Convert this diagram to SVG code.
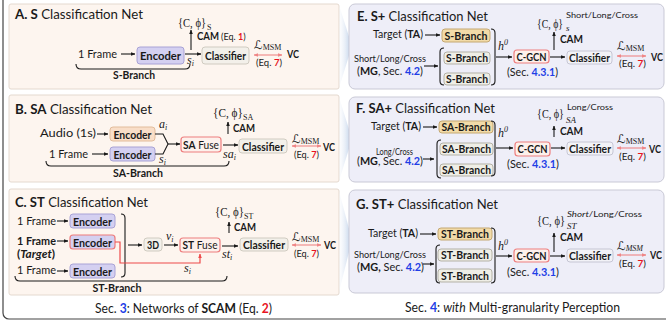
<svg xmlns="http://www.w3.org/2000/svg" width="666" height="322" viewBox="0 0 666 322">
  <style>
    text { font-family: Lato, "Open Sans", "Liberation Sans", sans-serif; fill: #1a1a1a; }
    .ttl { font-size: 14px; }
    .b { font-weight: bold; }
    .it { font-style: italic; }
    .n { font-size: 11.5px; font-weight: bold; text-anchor: middle; }
    .n2 { font-size: 11px; font-weight: bold; text-anchor: middle; }
    .r12 { font-size: 12px; }
    .r11 { font-size: 11px; }
    .sm { font-size: 9px; }
    .mth { font-family: "Liberation Serif", "DejaVu Serif", serif; }
    .scr { font-family: "DejaVu Serif", "DejaVu Sans", serif; }
    .red { fill: #e8141e; font-weight: bold; }
    .blu { fill: #1f3fe6; font-weight: bold; }
    .pl { fill: #fdf5ef; stroke: #e4d9cf; stroke-width: 1; }
    .pr { fill: #eeeef8; stroke: #c9c9d6; stroke-width: 1; }
    .enc { fill: #d4d0f1; stroke: #a8a2d6; stroke-width: 1; }
    .enct { fill: #d4d0f1; stroke: #ee7a7a; stroke-width: 1.2; }
    .aud { fill: #f9dec8; stroke: #e2bc9b; stroke-width: 1; }
    .cls { fill: #f3f0ea; stroke: #d0cbc1; stroke-width: 1; }
    .cls2 { fill: #f2f2f7; stroke: #c6c6d4; stroke-width: 1; }
    .fuse { fill: #fdf1ec; stroke: #ee7f7f; stroke-width: 1.2; }
    .tan { fill: #f2dba8; stroke: #c4a873; stroke-width: 1; }
    .gry { fill: #efeee6; stroke: #b3b1a6; stroke-width: 1; }
    .ln { stroke: #1a1a1a; stroke-width: 1.1; fill: none; }
    .ar { stroke: #1a1a1a; stroke-width: 1.1; fill: none; marker-end: url(#ah); }
    .rar { stroke: #ef8686; stroke-width: 1.1; fill: none; marker-start: url(#rh); marker-end: url(#rh); }
    .rl { stroke: #ee4a4a; stroke-width: 1.2; fill: none; }
  </style>
  <defs>
    <marker id="ah" viewBox="0 0 10 10" refX="9" refY="5" markerWidth="4.5" markerHeight="4.5" orient="auto-start-reverse">
      <path d="M0,1 L10,5 L0,9 z" fill="#1a1a1a"/>
    </marker>
    <marker id="rh" viewBox="0 0 10 10" refX="9" refY="5" markerWidth="4.5" markerHeight="4.5" orient="auto-start-reverse">
      <path d="M0,1 L10,5 L0,9 z" fill="#ef8686"/>
    </marker>
    <marker id="rah" viewBox="0 0 10 10" refX="9" refY="5" markerWidth="4" markerHeight="4" orient="auto-start-reverse">
      <path d="M0,1 L10,5 L0,9 z" fill="#ee4a4a"/>
    </marker>
    <linearGradient id="chev" x1="0" y1="0" x2="1" y2="0">
      <stop offset="0" stop-color="#f4f6fb" stop-opacity="0.2"/>
      <stop offset="1" stop-color="#b4cae6"/>
    </linearGradient>
  </defs>

  <!-- outer frame -->
  <rect x="3" y="-10" width="675" height="329" rx="6" fill="#ffffff" stroke="#444" stroke-width="1.2"/>

  <!-- panel backgrounds -->
  <rect class="pl" x="9" y="4" width="330" height="85" rx="2"/>
  <rect class="pl" x="9" y="95" width="330" height="87" rx="2"/>
  <rect class="pl" x="9" y="189" width="330" height="106" rx="2"/>
  <polygon points="339,5 352,46 339,88" fill="url(#chev)"/>
  <polygon points="339,97 352,139 339,181" fill="url(#chev)"/>
  <polygon points="339,191 352,240 339,292" fill="url(#chev)"/>
  <rect class="pr" x="349" y="4" width="315" height="85" rx="6"/>
  <rect class="pr" x="349" y="97" width="315" height="85" rx="6"/>
  <rect class="pr" x="349" y="190" width="315" height="103" rx="6"/>

  <!-- ===== A. S Classification Net ===== -->
  <text class="ttl" x="15" y="19" textLength="128" lengthAdjust="spacingAndGlyphs"><tspan class="b">A. S</tspan> Classification Net</text>
  <g id="a-out">
    <text class="mth" x="178" y="27" font-size="13" textLength="28" lengthAdjust="spacingAndGlyphs">{C, ϕ}</text>
    <text class="mth" x="207" y="30" font-size="8">S</text>
    <text class="r12 b" x="197" y="40" textLength="22" lengthAdjust="spacingAndGlyphs">CAM</text>
    <text class="sm" x="221" y="40">(Eq. <tspan class="red">1</tspan>)</text>
  </g>
  <g id="a-input"><text class="r12" x="78" y="58" textLength="39" lengthAdjust="spacingAndGlyphs">1 Frame</text></g>
  <g id="a-encoder">
    <rect class="enc" x="137" y="47" width="47" height="17" rx="3"/>
    <text class="n" x="160.5" y="59.5" textLength="41" lengthAdjust="spacingAndGlyphs">Encoder</text>
  </g>
  <g id="a-classifier">
    <rect class="cls" x="202" y="47" width="47" height="17" rx="3"/>
    <text class="n" x="225.5" y="59.5" textLength="41" lengthAdjust="spacingAndGlyphs">Classifier</text>
  </g>
  <g id="a-vc">
    <text class="scr" x="254" y="49" font-size="12">ℒ<tspan class="mth" font-size="8" dy="1">MSM</tspan></text>
    <text class="sm" x="256" y="66" textLength="26" lengthAdjust="spacingAndGlyphs">(Eq. <tspan class="red">7</tspan>)</text>
    <text class="r12 b" x="287" y="58" textLength="12" lengthAdjust="spacingAndGlyphs">VC</text>
  </g>
  <g id="a-branch">
    <path class="ln" d="M76,64 Q76,69 81,69 L185,69 Q190,69 190,64"/>
    <text class="n" x="134" y="79" textLength="42" lengthAdjust="spacingAndGlyphs">S-Branch</text>
  </g>
  <g id="a-edges">
    <line class="ar" x1="121" y1="54" x2="135" y2="54"/>
    <line class="ar" x1="185" y1="54" x2="201" y2="54"/>
    <line class="ar" x1="191" y1="50" x2="191" y2="30"/>
    <line class="rar" x1="254" y1="55" x2="282" y2="55"/>
    <text class="mth it" x="187" y="64" font-size="12">s<tspan font-size="8" dy="2">i</tspan></text>
  </g>

  <!-- ===== B. SA Classification Net ===== -->
  <text class="ttl" x="15" y="114" textLength="137" lengthAdjust="spacingAndGlyphs"><tspan class="b">B. SA</tspan> Classification Net</text>
  <g id="b-out">
    <text class="mth" x="213" y="117" font-size="13" textLength="30" lengthAdjust="spacingAndGlyphs">{C, ϕ}</text>
    <text class="mth" x="243" y="120" font-size="8">SA</text>
    <text class="r12 b" x="233" y="132" textLength="22" lengthAdjust="spacingAndGlyphs">CAM</text>
  </g>
  <g id="b-audio"><text class="r12" x="40" y="137" textLength="56" lengthAdjust="spacingAndGlyphs">Audio (1s)</text></g>
  <g id="b-frame"><text class="r12" x="49" y="158" textLength="39" lengthAdjust="spacingAndGlyphs">1 Frame</text></g>
  <g id="b-enc-audio">
    <rect class="aud" x="110" y="127" width="45" height="14" rx="3"/>
    <text class="n" x="132.5" y="138.5" textLength="38" lengthAdjust="spacingAndGlyphs">Encoder</text>
  </g>
  <g id="b-enc-frame">
    <rect class="enc" x="110" y="147" width="45" height="14" rx="3"/>
    <text class="n" x="132.5" y="158.5" textLength="38" lengthAdjust="spacingAndGlyphs">Encoder</text>
  </g>
  <g id="b-fuse">
    <rect class="fuse" x="181" y="137" width="40" height="15" rx="3"/>
    <text class="r12" x="201" y="148.5" text-anchor="middle" textLength="36" lengthAdjust="spacingAndGlyphs"><tspan class="b">SA</tspan> Fuse</text>
  </g>
  <g id="b-classifier">
    <rect class="cls" x="239" y="139" width="48" height="14" rx="3"/>
    <text class="n" x="263" y="150.5" textLength="42" lengthAdjust="spacingAndGlyphs">Classifier</text>
  </g>
  <g id="b-vc">
    <text class="scr" x="292" y="143" font-size="12">ℒ<tspan class="mth" font-size="8" dy="1">MSM</tspan></text>
    <text class="sm" x="294" y="158" textLength="25" lengthAdjust="spacingAndGlyphs">(Eq. <tspan class="red">7</tspan>)</text>
    <text class="r12 b" x="323" y="151" textLength="12" lengthAdjust="spacingAndGlyphs">VC</text>
  </g>
  <g id="b-branch">
    <path class="ln" d="M46,161 Q46,166 51,166 L224,166 Q229,166 229,161"/>
    <text class="n" x="138" y="177" textLength="50" lengthAdjust="spacingAndGlyphs">SA-Branch</text>
  </g>
  <g id="b-edges">
    <line class="ar" x1="97" y1="134" x2="108" y2="134"/>
    <line class="ar" x1="92" y1="154" x2="108" y2="154"/>
    <path class="ln" d="M155,134 L163,134 L168,144 L163,154 L155,154"/>
    <line class="ar" x1="168" y1="144" x2="180" y2="144"/>
    <line class="ar" x1="223" y1="145" x2="238" y2="145"/>
    <line class="ar" x1="228" y1="134" x2="228" y2="122"/>
    <line class="rar" x1="292" y1="146" x2="321" y2="146"/>
    <text class="mth it" x="159" y="128" font-size="12">a<tspan font-size="8" dy="2">i</tspan></text>
    <text class="mth it" x="159" y="163" font-size="12">s<tspan font-size="8" dy="2">i</tspan></text>
    <text class="mth it" x="223" y="158" font-size="12">sa<tspan font-size="8" dy="2">i</tspan></text>
  </g>

  <!-- ===== C. ST Classification Net ===== -->
  <text class="ttl" x="15" y="207" textLength="133" lengthAdjust="spacingAndGlyphs"><tspan class="b">C. ST</tspan> Classification Net</text>
  <g id="c-out">
    <text class="mth" x="215" y="216" font-size="13" textLength="29" lengthAdjust="spacingAndGlyphs">{C, ϕ}</text>
    <text class="mth" x="244" y="219" font-size="8">ST</text>
    <text class="r12 b" x="234" y="231" textLength="22" lengthAdjust="spacingAndGlyphs">CAM</text>
  </g>
  <g id="c-frame1"><text class="r12" x="17" y="225" textLength="39" lengthAdjust="spacingAndGlyphs">1 Frame</text></g>
  <g id="c-frame2">
    <text class="r12 b" x="17" y="245" textLength="39" lengthAdjust="spacingAndGlyphs">1 Frame</text>
    <text class="r12 b" x="17" y="258" textLength="38" lengthAdjust="spacingAndGlyphs">(<tspan class="it">Target</tspan>)</text>
  </g>
  <g id="c-frame3"><text class="r12" x="17" y="274" textLength="39" lengthAdjust="spacingAndGlyphs">1 Frame</text></g>
  <g id="c-enc1">
    <rect class="enc" x="70" y="214" width="45" height="14" rx="3"/>
    <text class="n" x="92.5" y="225.5" textLength="39" lengthAdjust="spacingAndGlyphs">Encoder</text>
  </g>
  <g id="c-enc2">
    <rect class="enct" x="70" y="235" width="45" height="14" rx="3"/>
    <text class="n" x="92.5" y="246.5" textLength="39" lengthAdjust="spacingAndGlyphs">Encoder</text>
  </g>
  <g id="c-enc3">
    <rect class="enc" x="70" y="264" width="45" height="14" rx="3"/>
    <text class="n" x="92.5" y="275.5" textLength="39" lengthAdjust="spacingAndGlyphs">Encoder</text>
  </g>
  <g id="c-3d">
    <rect class="cls" x="144" y="238" width="18" height="13" rx="3"/>
    <text class="n" x="153" y="248.5" textLength="12" lengthAdjust="spacingAndGlyphs">3D</text>
  </g>
  <g id="c-fuse">
    <rect class="fuse" x="180" y="238" width="40" height="14" rx="3"/>
    <text class="r12" x="200" y="249" text-anchor="middle" textLength="35" lengthAdjust="spacingAndGlyphs"><tspan class="b">ST</tspan> Fuse</text>
  </g>
  <g id="c-classifier">
    <rect class="cls" x="240" y="238" width="48" height="13" rx="3"/>
    <text class="n" x="264" y="249" textLength="42" lengthAdjust="spacingAndGlyphs">Classifier</text>
  </g>
  <g id="c-vc">
    <text class="scr" x="292" y="241" font-size="12">ℒ<tspan class="mth" font-size="8" dy="1">MSM</tspan></text>
    <text class="sm" x="294" y="257" textLength="25" lengthAdjust="spacingAndGlyphs">(Eq. <tspan class="red">7</tspan>)</text>
    <text class="r12 b" x="324" y="249" textLength="12" lengthAdjust="spacingAndGlyphs">VC</text>
  </g>
  <g id="c-branch">
    <path class="ln" d="M15,276 Q15,281 20,281 L222,281 Q227,281 227,276"/>
    <text class="n" x="117" y="292" textLength="49" lengthAdjust="spacingAndGlyphs">ST-Branch</text>
  </g>
  <g id="c-edges">
    <line class="ar" x1="57" y1="221" x2="68" y2="221"/>
    <line class="ar" x1="57" y1="241" x2="68" y2="241"/>
    <line class="ar" x1="57" y1="271" x2="68" y2="271"/>
    <path class="ln" d="M121,214 Q125,214 125,218 L125,273 Q125,277 121,277"/>
    <line class="ar" x1="128" y1="245" x2="142" y2="245"/>
    <line class="ar" x1="164" y1="245" x2="178" y2="245"/>
    <path class="rl" d="M115,242 L120,242 L120,263 L200,263 L200,254" marker-end="url(#rah)"/>
    <line class="ar" x1="222" y1="246" x2="238" y2="246"/>
    <line class="ar" x1="229" y1="233" x2="229" y2="222"/>
    <line class="rar" x1="292" y1="245" x2="321" y2="245"/>
    <text class="mth it" x="166" y="240" font-size="12">v<tspan font-size="8" dy="2">i</tspan></text>
    <text class="mth it" x="184" y="272" font-size="12">s<tspan font-size="8" dy="2">i</tspan></text>
    <text class="mth it" x="222" y="258" font-size="12">st<tspan font-size="8" dy="2">i</tspan></text>
  </g>

  <text x="95" y="313" style="font-size:13px" textLength="177" lengthAdjust="spacingAndGlyphs">Sec. <tspan class="blu">3</tspan>: Networks of <tspan class="b">SCAM</tspan> (Eq. <tspan class="red">2</tspan>)</text>

  <!-- ===== E. S+ Classification Net ===== -->
  <text class="ttl" x="357" y="21" textLength="131" lengthAdjust="spacingAndGlyphs"><tspan class="b">E. S+</tspan> Classification Net</text>
  <g id="e-out">
    <text class="mth" x="537" y="28" font-size="13" textLength="26" lengthAdjust="spacingAndGlyphs">{C, ϕ}</text>
    <text x="566" y="18" font-size="8" textLength="72" lengthAdjust="spacingAndGlyphs">Short/Long/Cross</text>
    <text class="mth it" x="566" y="31" font-size="9">s</text>
    <text class="r12 b" x="560" y="43" textLength="23" lengthAdjust="spacingAndGlyphs">CAM</text>
  </g>
  <g id="e-target"><text class="r11" x="373" y="38" textLength="50" lengthAdjust="spacingAndGlyphs">Target (<tspan class="b">TA</tspan>)</text></g>
  <g id="e-mg">
    <text x="354" y="62" font-size="9.5" textLength="72" lengthAdjust="spacingAndGlyphs">Short/Long/Cross</text>
    <text class="r11" x="357" y="75" textLength="66" lengthAdjust="spacingAndGlyphs">(<tspan class="b">MG</tspan>, Sec. <tspan class="blu">4.2</tspan>)</text>
  </g>
  <g id="e-branch-ta">
    <rect class="tan" x="442" y="29" width="48" height="13" rx="3"/>
    <text class="n2" x="466" y="39.5" textLength="43" lengthAdjust="spacingAndGlyphs">S-Branch</text>
  </g>
  <g id="e-branch-1">
    <rect class="gry" x="444" y="52" width="46" height="12" rx="3"/>
    <text class="n2" x="467" y="62" textLength="42" lengthAdjust="spacingAndGlyphs">S-Branch</text>
  </g>
  <g id="e-branch-2">
    <rect class="gry" x="444" y="73" width="46" height="12" rx="3"/>
    <text class="n2" x="467" y="83" textLength="42" lengthAdjust="spacingAndGlyphs">S-Branch</text>
  </g>
  <g id="e-gcn">
    <rect class="fuse" x="514" y="50" width="35" height="13" rx="3"/>
    <text class="n2" x="531.5" y="60.5" textLength="30" lengthAdjust="spacingAndGlyphs">C-GCN</text>
    <text class="r11" x="507" y="76" textLength="51" lengthAdjust="spacingAndGlyphs">(Sec. <tspan class="blu">4.3.1</tspan>)</text>
  </g>
  <g id="e-classifier">
    <rect class="cls2" x="567" y="51" width="45" height="13" rx="3"/>
    <text class="n2" x="589.5" y="61.5" textLength="41" lengthAdjust="spacingAndGlyphs">Classifier</text>
  </g>
  <g id="e-vc">
    <text class="scr" x="617" y="50" font-size="12">ℒ<tspan class="mth" font-size="8" dy="1">MSM</tspan></text>
    <text class="sm" x="619" y="67" textLength="27" lengthAdjust="spacingAndGlyphs">(Eq. <tspan class="red">7</tspan>)</text>
    <text class="r12 b" x="651" y="61" textLength="12" lengthAdjust="spacingAndGlyphs">VC</text>
  </g>
  <g id="e-edges">
    <line class="ar" x1="425" y1="35" x2="440" y2="35"/>
    <line class="ar" x1="424" y1="66" x2="438" y2="66"/>
    <path class="ln" d="M444,48 Q440,48 440,52 L440,81 Q440,85 444,85"/>
    <path class="ln" d="M491,29 Q495,29 495,33 L495,81 Q495,85 491,85"/>
    <line class="ar" x1="496" y1="57" x2="512" y2="57"/>
    <line class="ar" x1="550" y1="57" x2="565" y2="57"/>
    <line class="ar" x1="554" y1="50" x2="554" y2="32"/>
    <line class="rar" x1="617" y1="56" x2="646" y2="56"/>
    <text class="mth it" x="498" y="50" font-size="12">h<tspan font-size="8" dy="-5">0</tspan></text>
  </g>

  <!-- ===== F. SA+ Classification Net ===== -->
  <text class="ttl" x="356" y="113" textLength="139" lengthAdjust="spacingAndGlyphs"><tspan class="b">F. SA+</tspan> Classification Net</text>
  <g id="f-out">
    <text class="mth" x="537" y="118" font-size="13" textLength="27" lengthAdjust="spacingAndGlyphs">{C, ϕ}</text>
    <text x="567" y="110" font-size="8" textLength="46" lengthAdjust="spacingAndGlyphs">Long/Cross</text>
    <text class="mth it" x="566" y="123" font-size="9">SA</text>
    <text class="r12 b" x="560" y="135" textLength="23" lengthAdjust="spacingAndGlyphs">CAM</text>
  </g>
  <g id="f-target"><text class="r11" x="371" y="130" textLength="50" lengthAdjust="spacingAndGlyphs">Target (<tspan class="b">TA</tspan>)</text></g>
  <g id="f-mg">
    <text x="376" y="155" font-size="9.5" textLength="37" lengthAdjust="spacingAndGlyphs">Long/Cross</text>
    <text class="r11" x="357" y="165" textLength="66" lengthAdjust="spacingAndGlyphs">(<tspan class="b">MG</tspan>, Sec. <tspan class="blu">4.2</tspan>)</text>
  </g>
  <g id="f-branch-ta">
    <rect class="tan" x="439" y="121" width="54" height="12" rx="3"/>
    <text class="n2" x="466" y="131" textLength="49" lengthAdjust="spacingAndGlyphs">SA-Branch</text>
  </g>
  <g id="f-branch-1">
    <rect class="gry" x="440" y="143" width="53" height="12" rx="3"/>
    <text class="n2" x="466.5" y="153" textLength="49" lengthAdjust="spacingAndGlyphs">SA-Branch</text>
  </g>
  <g id="f-branch-2">
    <rect class="gry" x="440" y="164" width="53" height="12" rx="3"/>
    <text class="n2" x="466.5" y="174" textLength="49" lengthAdjust="spacingAndGlyphs">SA-Branch</text>
  </g>
  <g id="f-gcn">
    <rect class="fuse" x="515" y="142" width="35" height="14" rx="3"/>
    <text class="n2" x="532.5" y="153" textLength="30" lengthAdjust="spacingAndGlyphs">C-GCN</text>
    <text class="r11" x="507" y="168" textLength="52" lengthAdjust="spacingAndGlyphs">(Sec. <tspan class="blu">4.3.1</tspan>)</text>
  </g>
  <g id="f-classifier">
    <rect class="cls2" x="567" y="142" width="46" height="13" rx="3"/>
    <text class="n2" x="590" y="152.5" textLength="42" lengthAdjust="spacingAndGlyphs">Classifier</text>
  </g>
  <g id="f-vc">
    <text class="scr" x="617" y="143" font-size="12">ℒ<tspan class="mth" font-size="8" dy="1">MSM</tspan></text>
    <text class="sm" x="619" y="160" textLength="27" lengthAdjust="spacingAndGlyphs">(Eq. <tspan class="red">7</tspan>)</text>
    <text class="r12 b" x="649" y="153" textLength="12" lengthAdjust="spacingAndGlyphs">VC</text>
  </g>
  <g id="f-edges">
    <line class="ar" x1="423" y1="127" x2="437" y2="127"/>
    <line class="ar" x1="423" y1="159" x2="434" y2="159"/>
    <path class="ln" d="M441,140 Q437,140 437,144 L437,174 Q437,178 441,178"/>
    <path class="ln" d="M491,121 Q495,121 495,125 L495,172 Q495,176 491,176"/>
    <line class="ar" x1="496" y1="148" x2="513" y2="148"/>
    <line class="ar" x1="551" y1="148" x2="565" y2="148"/>
    <line class="ar" x1="554" y1="137" x2="554" y2="126"/>
    <line class="rar" x1="617" y1="148" x2="646" y2="148"/>
    <text class="mth it" x="498" y="137" font-size="12">h<tspan font-size="8" dy="-5">0</tspan></text>
  </g>

  <!-- ===== G. ST+ Classification Net ===== -->
  <text class="ttl" x="356" y="209" textLength="142" lengthAdjust="spacingAndGlyphs"><tspan class="b">G. ST+</tspan> Classification Net</text>
  <g id="g-out">
    <text class="mth" x="537" y="225" font-size="13" textLength="28" lengthAdjust="spacingAndGlyphs">{C, ϕ}</text>
    <text x="567" y="217" font-size="8" textLength="75" lengthAdjust="spacingAndGlyphs"><tspan class="it">Short</tspan>/Long/Cross</text>
    <text class="mth it" x="567" y="229" font-size="9">ST</text>
    <text class="r12 b" x="560" y="241" textLength="23" lengthAdjust="spacingAndGlyphs">CAM</text>
  </g>
  <g id="g-target"><text class="r11" x="368" y="237" textLength="50" lengthAdjust="spacingAndGlyphs">Target (<tspan class="b">TA</tspan>)</text></g>
  <g id="g-mg">
    <text x="354" y="258" font-size="9.5" textLength="72" lengthAdjust="spacingAndGlyphs">Short/Long/Cross</text>
    <text class="r11" x="357" y="271" textLength="67" lengthAdjust="spacingAndGlyphs">(<tspan class="b">MG,</tspan> Sec. <tspan class="blu">4.2</tspan>)</text>
  </g>
  <g id="g-branch-ta">
    <rect class="tan" x="438" y="228" width="54" height="12" rx="3"/>
    <text class="n2" x="465" y="238" textLength="48" lengthAdjust="spacingAndGlyphs">ST-Branch</text>
  </g>
  <g id="g-branch-1">
    <rect class="gry" x="438" y="249" width="54" height="12" rx="3"/>
    <text class="n2" x="465" y="259" textLength="48" lengthAdjust="spacingAndGlyphs">ST-Branch</text>
  </g>
  <g id="g-branch-2">
    <rect class="gry" x="438" y="269" width="54" height="13" rx="3"/>
    <text class="n2" x="465" y="279.5" textLength="48" lengthAdjust="spacingAndGlyphs">ST-Branch</text>
  </g>
  <g id="g-gcn">
    <rect class="fuse" x="514" y="249" width="35" height="13" rx="3"/>
    <text class="n2" x="531.5" y="259.5" textLength="30" lengthAdjust="spacingAndGlyphs">C-GCN</text>
    <text class="r11" x="507" y="276" textLength="52" lengthAdjust="spacingAndGlyphs">(Sec. <tspan class="blu">4.3.1</tspan>)</text>
  </g>
  <g id="g-classifier">
    <rect class="cls2" x="567" y="249" width="46" height="13" rx="3"/>
    <text class="n2" x="590" y="259.5" textLength="42" lengthAdjust="spacingAndGlyphs">Classifier</text>
  </g>
  <g id="g-vc">
    <text class="scr" x="617" y="250" font-size="12">ℒ<tspan class="mth it" font-size="8" dy="1">MSM</tspan></text>
    <text class="sm" x="619" y="267" textLength="27" lengthAdjust="spacingAndGlyphs">(Eq. <tspan class="red">7</tspan>)</text>
    <text class="r12 b" x="650" y="259" textLength="12" lengthAdjust="spacingAndGlyphs">VC</text>
  </g>
  <g id="g-edges">
    <line class="ar" x1="420" y1="234" x2="436" y2="234"/>
    <line class="ar" x1="423" y1="264" x2="434" y2="264"/>
    <path class="ln" d="M440,245 Q436,245 436,249 L436,279 Q436,283 440,283"/>
    <path class="ln" d="M491,228 Q495,228 495,232 L495,279 Q495,283 491,283"/>
    <line class="ar" x1="496" y1="256" x2="512" y2="256"/>
    <line class="ar" x1="550" y1="256" x2="565" y2="256"/>
    <line class="ar" x1="554" y1="252" x2="554" y2="233"/>
    <line class="rar" x1="617" y1="255" x2="646" y2="255"/>
    <text class="mth it" x="498" y="250" font-size="12">h<tspan font-size="8" dy="-5">0</tspan></text>
  </g>

  <text x="405" y="312" style="font-size:13px" textLength="215" lengthAdjust="spacingAndGlyphs">Sec. <tspan class="blu">4</tspan>: <tspan class="it">with</tspan> Multi-granularity Perception</text>
</svg>
